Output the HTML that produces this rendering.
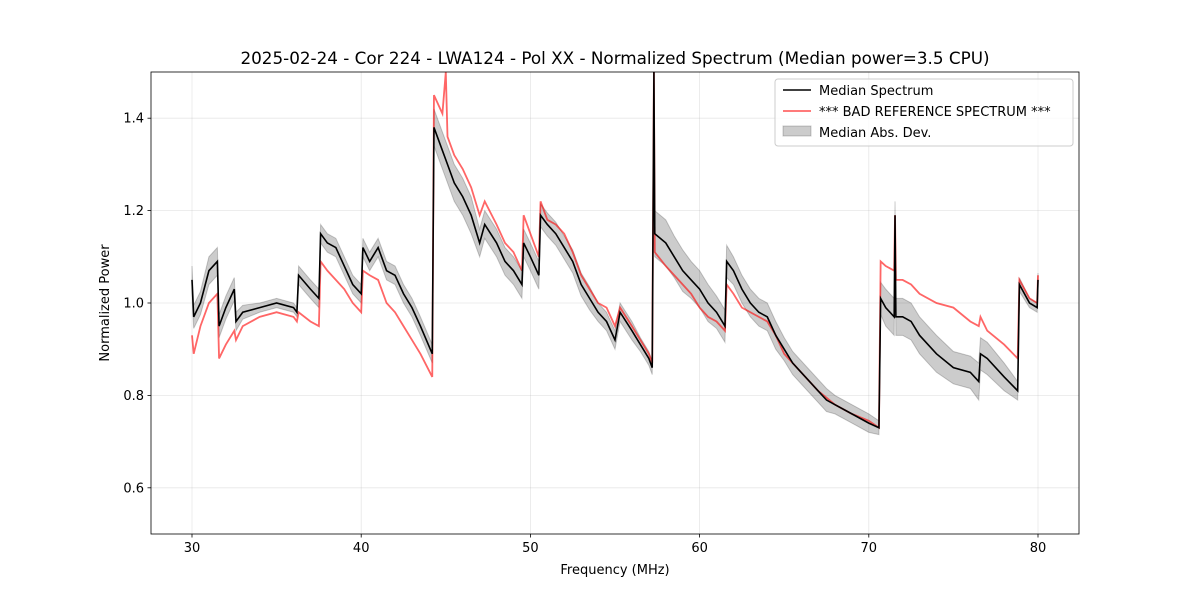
<!DOCTYPE html>
<html><head><meta charset="utf-8">
<style>
body{margin:0;background:#fff;font-family:"Liberation Sans","DejaVu Sans",sans-serif;}
svg text{font-family:"DejaVu Sans","Liberation Sans",sans-serif;}
</style></head>
<body>
<svg id="chart" width="1200" height="600" xmlns="http://www.w3.org/2000/svg"></svg>
<script>
const freqs=[30.0,30.1,30.5,31,31.5,31.6,32,32.5,32.6,33,34,35,36,36.2,36.3,37,37.5,37.6,38,38.5,39,39.5,40,40.1,40.5,41,41.5,42,42.5,43,43.5,44.2,44.3,44.8,45.0,45.1,45.5,46,46.5,47,47.3,48,48.5,49,49.5,49.6,50,50.5,50.6,51,51.5,52,52.5,53,53.5,54,54.5,55,55.3,56,56.5,57,57.2,57.3,57.35,58,58.5,59,59.5,60,60.5,61,61.5,61.6,62,62.5,63,63.5,64,64.5,65,65.5,66,67,67.5,68,69,70,70.6,70.7,71,71.5,71.55,71.6,72,72.5,73,74,75,76,76.5,76.6,77,78,78.8,78.9,79.5,79.95,80];
const medianVals=[1.05,0.97,1.0,1.07,1.09,0.95,0.99,1.03,0.96,0.98,0.99,1.0,0.99,0.98,1.06,1.03,1.01,1.15,1.13,1.12,1.08,1.04,1.02,1.12,1.09,1.12,1.07,1.06,1.02,0.99,0.95,0.89,1.38,1.33,1.31,1.30,1.26,1.23,1.19,1.13,1.17,1.13,1.09,1.07,1.04,1.13,1.10,1.06,1.19,1.17,1.15,1.12,1.09,1.04,1.01,0.98,0.96,0.92,0.98,0.94,0.91,0.88,0.86,1.5,1.15,1.13,1.10,1.07,1.05,1.03,1.00,0.98,0.95,1.09,1.07,1.03,1.0,0.98,0.97,0.93,0.90,0.87,0.85,0.81,0.79,0.78,0.76,0.74,0.73,1.01,0.99,0.97,1.19,0.97,0.97,0.96,0.93,0.89,0.86,0.85,0.83,0.89,0.88,0.84,0.81,1.04,1.0,0.99,1.05];
const refVals=[0.93,0.89,0.95,1.0,1.02,0.88,0.91,0.94,0.92,0.95,0.97,0.98,0.97,0.96,0.98,0.96,0.95,1.09,1.07,1.05,1.03,1.0,0.98,1.07,1.06,1.05,1.0,0.98,0.95,0.92,0.89,0.84,1.45,1.41,1.5,1.36,1.32,1.29,1.25,1.19,1.22,1.17,1.13,1.11,1.07,1.19,1.15,1.10,1.22,1.18,1.17,1.15,1.11,1.06,1.03,1.0,0.99,0.95,0.99,0.95,0.92,0.89,0.87,1.5,1.11,1.08,1.06,1.04,1.02,0.99,0.97,0.96,0.94,1.04,1.02,0.99,0.98,0.97,0.96,0.93,0.89,0.87,0.85,0.81,0.795,0.78,0.76,0.745,0.73,1.09,1.08,1.07,1.19,1.05,1.05,1.04,1.02,1.0,0.99,0.96,0.95,0.97,0.94,0.91,0.88,1.05,1.01,1.0,1.06];
const madVals=[0.03,0.025,0.025,0.03,0.03,0.025,0.025,0.025,0.02,0.015,0.01,0.01,0.01,0.01,0.02,0.02,0.02,0.02,0.02,0.02,0.02,0.02,0.02,0.02,0.02,0.02,0.02,0.02,0.02,0.02,0.02,0.02,0.04,0.04,0.04,0.04,0.04,0.04,0.04,0.03,0.03,0.03,0.03,0.03,0.03,0.03,0.03,0.03,0.025,0.025,0.025,0.025,0.025,0.025,0.025,0.02,0.02,0.02,0.02,0.02,0.015,0.015,0.015,0.015,0.05,0.05,0.045,0.045,0.04,0.04,0.04,0.035,0.035,0.035,0.03,0.03,0.03,0.03,0.03,0.03,0.025,0.025,0.025,0.025,0.025,0.02,0.02,0.02,0.015,0.035,0.04,0.04,0.03,0.04,0.04,0.04,0.04,0.04,0.035,0.035,0.04,0.035,0.035,0.03,0.02,0.015,0.01,0.01,0.015];
const xTicks=[30,40,50,60,70,80];
const yTicks=[0.6,0.8,1.0,1.2,1.4];

const svg=document.getElementById('chart');
const NS='http://www.w3.org/2000/svg';
const L=151,R=1079,T=72,B=534;
const x=f=>192+(f-30)*(1038-192)/50;
const y=v=>B-(v-0.5)*(B-T)/1.0;
function el(tag,attrs,parent){const e=document.createElementNS(NS,tag);for(const k in attrs)e.setAttribute(k,attrs[k]);(parent||svg).appendChild(e);return e;}

const clip=el('clipPath',{id:'pc'});el('rect',{x:L,y:T,width:R-L,height:B-T},clip);

xTicks.forEach(t=>{
  const g=el('line',{x1:x(t),x2:x(t),y1:T,y2:B,stroke:'#b0b0b0','stroke-opacity':0.3,'stroke-width':0.8});
  
  el('line',{x1:x(t),x2:x(t),y1:B,y2:B+3.5,stroke:'#000','stroke-width':0.8});
  const tx=el('text',{x:x(t),y:B+18,'text-anchor':'middle','font-size':13});tx.textContent=t;
  
});
yTicks.forEach(t=>{
  const g=el('line',{x1:L,x2:R,y1:y(t),y2:y(t),stroke:'#b0b0b0','stroke-opacity':0.3,'stroke-width':0.8});
  
  el('line',{x1:L-3.5,x2:L,y1:y(t),y2:y(t),stroke:'#000','stroke-width':0.8});
  const tx=el('text',{x:L-7,y:y(t)+4.5,'text-anchor':'end','font-size':13});tx.textContent=t.toFixed(1);
  
});

const g=el('g',{'clip-path':'url(#pc)'});
let up=freqs.map((f,i)=>x(f)+','+y(medianVals[i]+madVals[i]));
let dn=freqs.map((f,i)=>x(f)+','+y(medianVals[i]-madVals[i])).reverse();
const band=el('polygon',{points:up.concat(dn).join(' '),fill:'#000','fill-opacity':0.2,stroke:'#000','stroke-opacity':0.2},g);

const ref=el('polyline',{points:freqs.map((f,i)=>x(f)+','+y(refVals[i])).join(' '),fill:'none',stroke:'#ff0000','stroke-opacity':0.6,'stroke-width':1.8},g);

const med=el('polyline',{points:freqs.map((f,i)=>x(f)+','+y(medianVals[i])).join(' '),fill:'none',stroke:'#000','stroke-width':1.6},g);


const frame=el('rect',{x:L,y:T,width:R-L,height:B-T,fill:'none',stroke:'#000','stroke-width':0.8});


const title=el('text',{x:615,y:64,'text-anchor':'middle','font-size':16.8});
title.textContent='2025-02-24 - Cor 224 - LWA124 - Pol XX - Normalized Spectrum (Median power=3.5 CPU)';

const xl=el('text',{x:615,y:574,'text-anchor':'middle','font-size':13});xl.textContent='Frequency (MHz)';

const yl=el('text',{x:109,y:303,'text-anchor':'middle','font-size':13,transform:'rotate(-90 109 303)'});yl.textContent='Normalized Power';


const lg=el('g',{});

el('rect',{x:775,y:79,width:298,height:67,rx:3,fill:'#fff','fill-opacity':0.8,stroke:'#ccc'},lg);
el('line',{x1:783,x2:811,y1:90,y2:90,stroke:'#000','stroke-width':1.6},lg);
el('line',{x1:783,x2:811,y1:111,y2:111,stroke:'#ff0000','stroke-opacity':0.6,'stroke-width':1.8},lg);
el('rect',{x:783,y:126,width:28,height:10,fill:'#000','fill-opacity':0.2,stroke:'#000','stroke-opacity':0.2},lg);
[['Median Spectrum',95],['*** BAD REFERENCE SPECTRUM ***',116],['Median Abs. Dev.',137]].forEach(([t,yy])=>{
  const tx=el('text',{x:819,y:yy,'font-size':13},lg);tx.textContent=t;
  
});
</script>
</body></html>
